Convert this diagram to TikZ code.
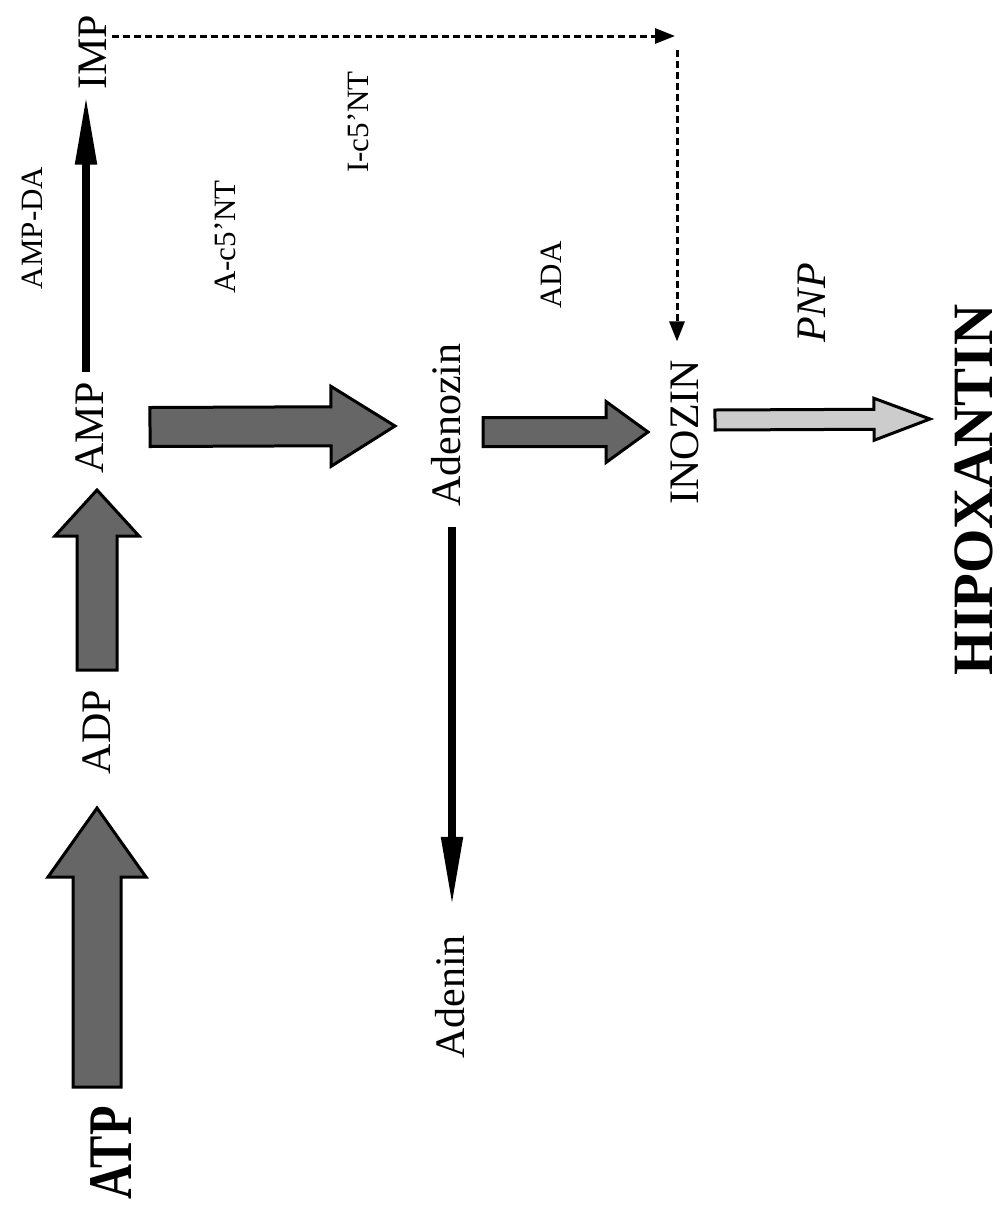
\documentclass[tikz,border=0pt]{standalone}
\usepackage{fontspec}
\setmainfont{Liberation Serif}
\usetikzlibrary{arrows.meta,calc}
\definecolor{fatdark}{gray}{0.40}
\definecolor{fatlight}{gray}{0.80}
% block arrow from #2 to #3: #4 half body width, #5 half head width, #6 head length
\newcommand\fatarrow[6]{%
  \path ($(#3)!#6!(#2)$) coordinate (fa-base);
  \draw[fatbody,#1] ($(#2)!#4!90:(#3)$) -- ($(fa-base)!#4!90:(#3)$)
    -- ($(fa-base)!#5!90:(#3)$) -- (#3) -- ($(fa-base)!#5!-90:(#3)$)
    -- ($(fa-base)!#4!-90:(#3)$) -- ($(#2)!#4!-90:(#3)$) -- cycle;}
\begin{document}
\begin{tikzpicture}[x=1pt,y=-1pt,
  lbl/.style={rotate=90,inner sep=0pt,font=\fontsize{42}{48}\selectfont},
  enz/.style={rotate=90,inner sep=0pt,font=\fontsize{31}{36}\selectfont},
  fatbody/.style={draw=black,line width=3pt,line join=miter,fill=fatdark},
  solidarrow/.style={line width=8pt,-{Triangle[length=70pt,width=20pt]}},
  dashline/.style={line width=3pt,dash pattern=on 7pt off 4pt,
    -{Triangle[length=20pt,width=15pt]}}]
\useasboundingbox (0,0) rectangle (1003,1211);

% metabolites
\node[lbl] (IMP) at (93,52) {IMP};
\node[lbl] (AMP) at (90,428) {AMP};
\node[lbl] (ADP) at (97,732) {ADP};
\node[lbl,font=\fontsize{62}{70}\selectfont\bfseries] (ATP) at (111,1153) {\scalebox{0.78}[1]{ATP}};
\node[lbl] (Ado) at (446,425) {Adenozin};
\node[lbl] (Ade) at (450,997) {Adenin};
\node[lbl] (INO) at (685,432) {INOZIN};
\node[lbl,font=\fontsize{57}{64}\selectfont\bfseries] (HX) at (974,490) {HIPOXANTIN};

% enzymes
\node[enz] (ampda) at (32,228) {AMP-DA};
\node[enz] (ac5nt) at (225,237) {A-c5’NT};
\node[enz] (ic5nt) at (358,122) {I-c5’NT};
\node[enz] (ada) at (551,275) {ADA};
\node[lbl,font=\fontsize{42}{48}\selectfont\itshape] (pnp) at (812,303) {PNP};

% block arrows
\coordinate (f1s) at (97,1087); \coordinate (f1e) at (97,808);
\coordinate (f2s) at (97,670);  \coordinate (f2e) at (97,490);
\coordinate (f3s) at (150,427); \coordinate (f3e) at (395,426);
\coordinate (f4s) at (483,432); \coordinate (f4e) at (648,432);
\coordinate (f5s) at (715,420); \coordinate (f5e) at (930,419);
\fatarrow{}{f1s}{f1e}{24pt}{49pt}{69pt}
\fatarrow{}{f2s}{f2e}{20pt}{42pt}{46pt}
\fatarrow{}{f3s}{f3e}{19.5pt}{40pt}{64pt}
\fatarrow{}{f4s}{f4e}{14.5pt}{30.5pt}{42pt}
\fatarrow{fill=fatlight}{f5s}{f5e}{10pt}{21pt}{56pt}

% solid conversions
\coordinate (ax) at (86,0);
\coordinate (bx) at (452,0);
\draw[solidarrow,shorten <=10pt,shorten >=5pt] (AMP.east -| ax) -- (IMP.west -| ax);
\draw[solidarrow,shorten <=20pt,shorten >=28pt] (Ado.west -| bx) -- (Ade.east -| bx);

% IMP -> INOZIN route
\coordinate (dc) at (675,36);
\coordinate (dv) at (677,50);
\draw[dashline,shorten <=5pt] (IMP.south |- dc) -- (dc);
\draw[dashline,shorten >=18pt] (dv) -- (INO.east -| dv);
\end{tikzpicture}
\end{document}
